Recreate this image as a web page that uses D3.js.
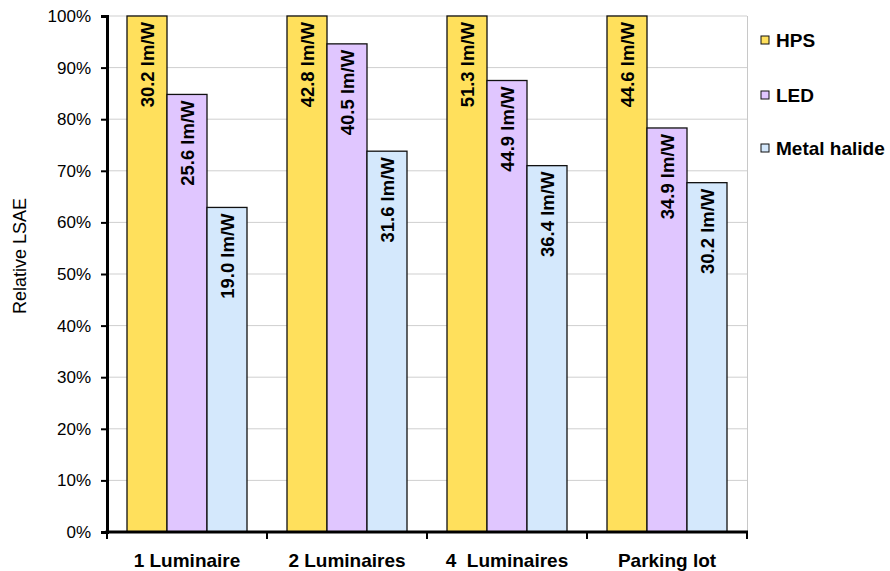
<!DOCTYPE html>
<html>
<head>
<meta charset="utf-8">
<script src="https://cdn.jsdelivr.net/npm/d3@7"></script>
<style>
  body { margin: 0; background: #fff; }
  text { font-family: "Liberation Sans", Arial, sans-serif; }
</style>
</head>
<body>
<div id="chart"></div>
<script>
// data
var categories = ["1 Luminaire", "2 Luminaires", "4  Luminaires", "Parking lot"]
var seriesNames = ["HPS", "LED", "Metal halide"]
var hps = [100, 100, 100, 100]
var led = [84.8, 94.6, 87.5, 78.3]
var metal = [62.9, 73.8, 71.0, 67.7]
var hpsLabels = ["30.2 lm/W", "42.8 lm/W", "51.3 lm/W", "44.6 lm/W"]
var ledLabels = ["25.6 lm/W", "40.5 lm/W", "44.9 lm/W", "34.9 lm/W"]
var metalLabels = ["19.0 lm/W", "31.6 lm/W", "36.4 lm/W", "30.2 lm/W"]
var yTicks = [0, 10, 20, 30, 40, 50, 60, 70, 80, 90, 100]

var colors = ["#ffe05c", "#e0c6ff", "#d4e8fc"]

var width = 890
var height = 571
var margin = {top: 16, right: 143, bottom: 39, left: 107}

var svg = d3.select("#chart")
  .append("svg")
  .attr("width", width)
  .attr("height", height)

var x = d3.scaleBand()
  .domain(categories)
  .range([margin.left, width - margin.right])
  .paddingInner(0)
  .paddingOuter(0)

var xInner = d3.scaleBand()
  .domain(seriesNames)
  .range([20, x.bandwidth() - 20])

var y = d3.scaleLinear()
  .domain([0, 100])
  .range([height - margin.bottom, margin.top])

// gridlines
svg.append("g")
  .selectAll("line")
  .data(yTicks.filter(function(d) { return d > 0 }))
  .enter()
  .append("line")
  .attr("x1", margin.left)
  .attr("x2", width - margin.right)
  .attr("y1", function(d) { return y(d) })
  .attr("y2", function(d) { return y(d) })
  .attr("stroke", "#cfcfcf")
  .attr("stroke-width", 1)

// right border of plot area
svg.append("line")
  .attr("x1", width - margin.right + 0.5)
  .attr("x2", width - margin.right + 0.5)
  .attr("y1", margin.top)
  .attr("y2", height - margin.bottom)
  .attr("stroke", "#c8c8c8")

// build rows for the bars
var rows = []
categories.forEach(function(c, i) {
  rows.push({cat: c, s: seriesNames[0], v: hps[i], label: hpsLabels[i], color: colors[0]})
  rows.push({cat: c, s: seriesNames[1], v: led[i], label: ledLabels[i], color: colors[1]})
  rows.push({cat: c, s: seriesNames[2], v: metal[i], label: metalLabels[i], color: colors[2]})
})

svg.append("g")
  .selectAll("rect")
  .data(rows)
  .enter()
  .append("rect")
  .attr("x", function(d) { return x(d.cat) + xInner(d.s) })
  .attr("width", xInner.bandwidth())
  .attr("y", function(d) { return y(d.v) })
  .attr("height", function(d) { return y(0) - y(d.v) })
  .attr("fill", function(d) { return d.color })
  .attr("stroke", "#111")
  .attr("stroke-width", 1.3)

// rotated value labels
svg.append("g")
  .selectAll("text")
  .data(rows)
  .enter()
  .append("text")
  .attr("transform", function(d) {
    var cx = x(d.cat) + xInner(d.s) + xInner.bandwidth() / 2 + 7
    return "translate(" + cx + "," + (y(d.v) + 6) + ") rotate(-90)"
  })
  .attr("text-anchor", "end")
  .attr("font-size", "18.5px")
  .attr("font-weight", "bold")
  .attr("fill", "#000")
  .text(function(d) { return d.label })

// y axis
var yAxis = svg.append("g")
  .attr("transform", "translate(" + margin.left + ",0)")
  .call(d3.axisLeft(y).tickValues(yTicks).tickSize(6).tickPadding(10)
    .tickFormat(function(d) { return d + "%" }))
yAxis.select(".domain").attr("stroke", "#000").attr("stroke-width", 3)
yAxis.selectAll(".tick line").attr("stroke", "#000").attr("stroke-width", 2)
yAxis.selectAll(".tick text")
  .attr("font-size", "17px")
  .attr("font-family", "Liberation Sans, Arial, sans-serif")
  .attr("fill", "#000")

// x axis
var ticksX = categories.map(function(c) { return x(c) }).concat([width - margin.right])
var xAxisG = svg.append("g")
xAxisG.append("line")
  .attr("x1", margin.left - 1.5)
  .attr("x2", width - margin.right + 1)
  .attr("y1", y(0))
  .attr("y2", y(0))
  .attr("stroke", "#000")
  .attr("stroke-width", 3)
xAxisG.selectAll(".xt")
  .data(ticksX)
  .enter()
  .append("line")
  .attr("x1", function(d) { return d })
  .attr("x2", function(d) { return d })
  .attr("y1", y(0))
  .attr("y2", y(0) + 7)
  .attr("stroke", "#000")
  .attr("stroke-width", 2)
xAxisG.selectAll(".xl")
  .data(categories)
  .enter()
  .append("text")
  .attr("x", function(d) { return x(d) + x.bandwidth() / 2 })
  .attr("y", 567)
  .attr("text-anchor", "middle")
  .attr("font-size", "19px")
  .attr("font-weight", "bold")
  .style("white-space", "pre")
  .text(function(d) { return d })

// y axis title
svg.append("text")
  .attr("transform", "translate(26,256) rotate(-90)")
  .attr("text-anchor", "middle")
  .attr("font-size", "18px")
  .text("Relative LSAE")

// legend
var legendY = [40, 95, 148]
var legend = svg.append("g")
  .selectAll("g")
  .data(seriesNames)
  .enter()
  .append("g")
  .attr("transform", function(d, i) { return "translate(761," + legendY[i] + ")" })
legend.append("rect")
  .attr("x", 0)
  .attr("y", -4)
  .attr("width", 8)
  .attr("height", 8)
  .attr("fill", function(d, i) { return colors[i] })
  .attr("stroke", "#111")
  .attr("stroke-width", 1)
legend.append("text")
  .attr("x", 15)
  .attr("y", 6.5)
  .attr("font-size", "19px")
  .attr("font-weight", "bold")
  .text(function(d) { return d })
</script>
</body>
</html>
